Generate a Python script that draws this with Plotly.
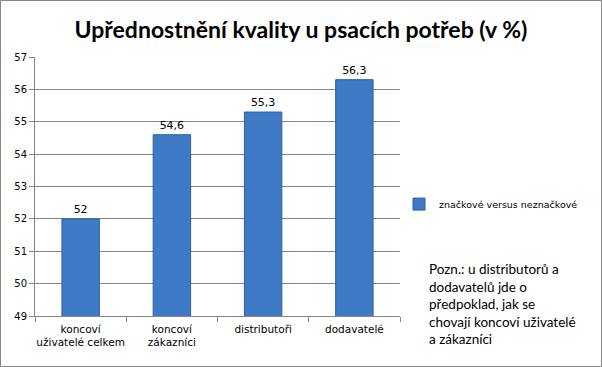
import plotly.graph_objects as go

categories = ["koncoví<br>uživatelé celkem", "koncoví<br>zákazníci", "distributoři", "dodavatelé"]
values = [52.0, 54.6, 55.3, 56.3]
series_name = "značkové versus neznačkové"
title_text = "Upřednostnění kvality u psacích potřeb (v %)"
note_text = "Pozn.: u distributorů a<br>dodavatelů jde o<br>předpoklad, jak se<br>chovají koncoví uživatelé<br>a zákazníci"
y_ticks = [49, 50, 51, 52, 53, 54, 55, 56, 57]

def fmt(v):
    s = ("%g" % v)
    return s.replace(".", ",")

labels = [fmt(v) for v in values]

fig = go.Figure()
fig.add_trace(go.Bar(
    x=categories, y=values, name=series_name,
    text=labels, textposition="outside", cliponaxis=False,
    textfont=dict(family="DejaVu Sans", size=11, color="#000000"),
    marker=dict(color="#3E7AC6", line=dict(color="#2F5F9E", width=1)),
    showlegend=True,
))

fig.update_layout(
    width=602, height=367,
    margin=dict(l=35, r=202, t=57, b=51),
    paper_bgcolor="white", plot_bgcolor="white",
    bargap=0.59,
    title=dict(text="<b>" + title_text + "</b>", x=0.5, xref="container", xanchor="center",
               y=0.918, yref="container", yanchor="middle",
               font=dict(family="Lato", size=23, color="#000000")),
    legend=dict(x=(399-35)/365, y=0.432, xref="paper", yref="paper", xanchor="left", yanchor="middle",
                font=dict(family="DejaVu Sans", size=9.5, color="#000000"),
                itemwidth=30, bgcolor="rgba(0,0,0,0)"),
    xaxis=dict(showline=True, linecolor="#868686", linewidth=1, ticks="outside",
               tickson="boundaries", ticklen=5, tickcolor="#868686", tickangle=0,
               automargin=False, ticklabelstandoff=3,
               tickfont=dict(family="DejaVu Sans", size=10.5, color="#000000"),
               showgrid=False),
    yaxis=dict(range=[49, 57], tickvals=y_ticks, ticktext=[str(t) for t in y_ticks],
               showline=True, linecolor="#868686", linewidth=1, automargin=False,
               ticks="outside", ticklen=5, tickcolor="#868686",
               gridcolor="#868686", gridwidth=1, zeroline=False,
               tickfont=dict(family="DejaVu Sans", size=10, color="#000000")),
    shapes=[dict(type="rect", xref="paper", yref="paper", x0=-34.5/365, x1=(602-35-0.5)/365,
                 y0=-50.5/259, y1=(259+56.5)/259, line=dict(color="#868686", width=1),
                 fillcolor="rgba(0,0,0,0)", layer="below")],
    annotations=[dict(text=note_text, x=(427-35)/365, y=(316-259)/259, xref="paper", yref="paper",
                      xanchor="left", yanchor="top", align="left", showarrow=False,
                      font=dict(family="Lato", size=13.5, color="#000000"))],
)

fig.write_html("out.html", config={"displayModeBar": False},
               post_script="document.body.style.margin='0px';document.body.style.overflow='hidden';")
